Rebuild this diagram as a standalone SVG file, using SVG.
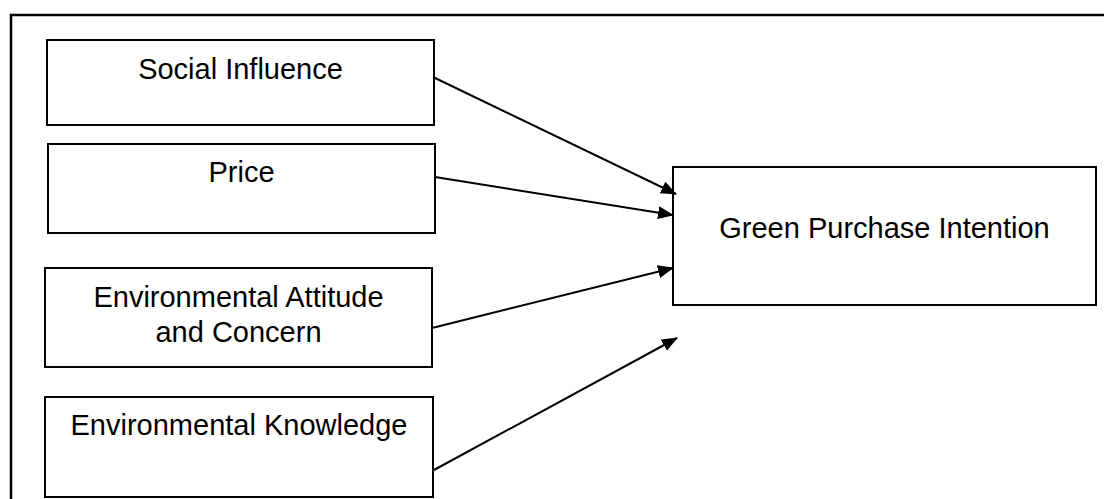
<svg xmlns="http://www.w3.org/2000/svg" width="1104" height="499" viewBox="0 0 1104 499">
<style>
.box{fill:#fff;stroke:#000;stroke-width:2}
.lbl{font-family:"Liberation Sans",Arial,sans-serif;font-size:29px;fill:#000;text-anchor:middle}
.conn{stroke:#000;stroke-width:2;fill:none;marker-end:url(#ah)}
</style>
<defs>
<marker id="ah" viewBox="0 0 16 13" refX="15" refY="6.5" markerUnits="userSpaceOnUse" markerWidth="16" markerHeight="13" orient="auto">
<path d="M0,0 L16,6.5 L0,13 z" fill="#000"/>
</marker>
</defs>
<rect x="0" y="0" width="1104" height="499" fill="#fff"/>
<g id="frame"><path d="M11,520 L11,15 L1120,15" fill="none" stroke="#000" stroke-width="2.5"/></g>
<g id="social-influence"><rect class="box" x="47" y="40" width="387" height="85"/><text class="lbl" x="240.5" y="79">Social Influence</text></g>
<g id="price"><rect class="box" x="48" y="144" width="387" height="89"/><text class="lbl" x="241.5" y="182">Price</text></g>
<g id="env-attitude"><rect class="box" x="45" y="268" width="387" height="99"/><text class="lbl" x="238.5" y="307">Environmental Attitude</text><text class="lbl" x="238.5" y="342">and Concern</text></g>
<g id="env-knowledge"><rect class="box" x="45" y="397" width="388" height="100"/><text class="lbl" x="239" y="435">Environmental Knowledge</text></g>
<g id="green-purchase"><rect class="box" x="673" y="167" width="423" height="138"/><text class="lbl" x="884.5" y="238">Green Purchase Intention</text></g>
<g id="connectors">
<line class="conn" x1="433" y1="77" x2="676" y2="194"/>
<line class="conn" x1="435" y1="177" x2="673" y2="215"/>
<line class="conn" x1="432" y1="328" x2="673" y2="268"/>
<line class="conn" x1="434" y1="470" x2="677" y2="338"/>
</g>
</svg>
